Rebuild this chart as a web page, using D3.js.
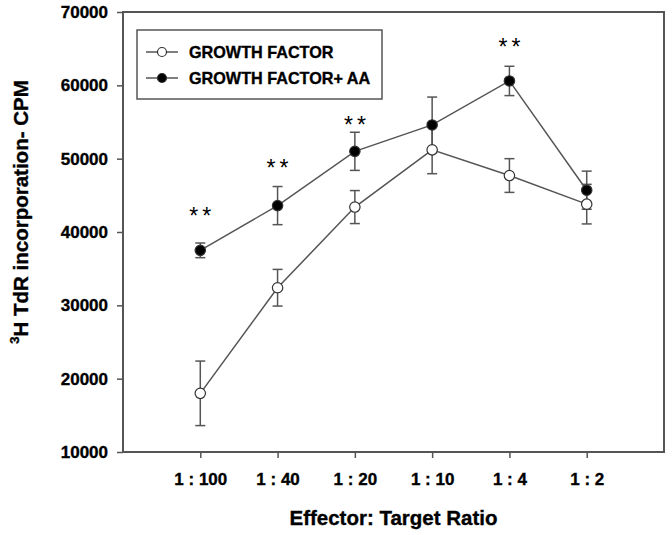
<!DOCTYPE html>
<html>
<head>
<meta charset="utf-8">
<script src="https://cdn.jsdelivr.net/npm/d3@7"></script>
<style>
  html, body { margin: 0; padding: 0; background: #fff; }
  svg { display: block; }
  text { font-family: Arial, "Liberation Sans", sans-serif; font-weight: bold; fill: #000; }
  .heavy { stroke: #000; stroke-width: 0.35px; }
</style>
</head>
<body>
<svg id="chart" width="672" height="535"></svg>
<script>
const categories = ["1 : 100", "1 : 40", "1 : 20", "1 : 10", "1 : 4", "1 : 2"];
const gfValues = [18000, 32400, 43400, 51200, 47700, 43800];
const gfErrors = [4400, 2500, 2250, 3250, 2300, 2700];
const aaValues = [37500, 43600, 51000, 54600, 60600, 45700];
const aaErrors = [1000, 2600, 2600, 3800, 2000, 2600];
const starValues = [42600, 49100, 55000, null, 65600, null];
const yTicks = [10000, 20000, 30000, 40000, 50000, 60000, 70000];
const seriesNames = ["GROWTH FACTOR", "GROWTH FACTOR+ AA"];

const svg = d3.select("#chart");
const pLeft = 123, pRight = 664, pTop = 12, pBottom = 452;
const axisColor = "#555";
const lineColor = "#555";

const x = d3.scalePoint().domain(categories).range([pLeft, pRight]).padding(1);
const y = d3.scaleLinear().domain([10000, 70000]).range([pBottom, pTop]);

// frame
svg.append("rect").attr("x", pLeft).attr("y", pTop)
  .attr("width", pRight - pLeft).attr("height", pBottom - pTop)
  .attr("fill", "none").attr("stroke", axisColor).attr("stroke-width", 2);

// y axis
const yAxis = svg.append("g").attr("transform", `translate(${pLeft},0)`)
  .call(d3.axisLeft(y).tickValues(yTicks).tickSize(6).tickPadding(9).tickFormat(d3.format("d")));
yAxis.select(".domain").remove();
yAxis.selectAll("line").attr("stroke", axisColor).attr("stroke-width", 1.5);
yAxis.selectAll("text").attr("class", "heavy").style("font-size", "17px").style("font-family", "Arial, 'Liberation Sans', sans-serif").style("font-weight", "bold").attr("fill", "#000");

// x axis
const xAxis = svg.append("g").attr("transform", `translate(0,${pBottom})`)
  .call(d3.axisBottom(x).tickSize(6).tickPadding(15));
xAxis.select(".domain").remove();
xAxis.selectAll("line").attr("stroke", axisColor).attr("stroke-width", 1.5);
xAxis.selectAll("text").attr("class", "heavy").style("font-size", "17px").style("font-family", "Arial, 'Liberation Sans', sans-serif").style("font-weight", "bold").attr("fill", "#000");

// axis titles
svg.append("text").attr("class", "heavy").attr("x", (pLeft + pRight) / 2).attr("y", 525)
  .attr("text-anchor", "middle").style("font-size", "20.5px").text("Effector: Target Ratio");

const yt = svg.append("text").attr("class", "heavy").attr("transform", "translate(25,212) rotate(-90)")
  .attr("text-anchor", "middle").style("font-size", "20.5px");
yt.append("tspan").attr("dy", "-0.45em").style("font-size", "13px").text("3");
yt.append("tspan").attr("dy", "0.45em").text("H TdR incorporation- CPM");

// series
const series = [
  { values: gfValues, errors: gfErrors, fill: "#fff" },
  { values: aaValues, errors: aaErrors, fill: "#000" }
];

const line = d3.line().x((d, i) => x(categories[i])).y(d => y(d));

series.forEach(s => {
  svg.append("path").datum(s.values).attr("d", line)
    .attr("fill", "none").attr("stroke", lineColor).attr("stroke-width", 1.5);
});

series.forEach(s => {
  const g = svg.append("g");
  s.values.forEach((v, i) => {
    const cx = x(categories[i]);
    const y1 = y(v + s.errors[i]), y2 = y(v - s.errors[i]);
    g.append("line").attr("x1", cx).attr("x2", cx).attr("y1", y1).attr("y2", y2)
      .attr("stroke", lineColor).attr("stroke-width", 1.5);
    [y1, y2].forEach(yy => g.append("line").attr("x1", cx - 5).attr("x2", cx + 5)
      .attr("y1", yy).attr("y2", yy).attr("stroke", lineColor).attr("stroke-width", 1.5));
  });
});

series.forEach(s => {
  svg.append("g").selectAll("circle").data(s.values).join("circle")
    .attr("cx", (d, i) => x(categories[i])).attr("cy", d => y(d)).attr("r", 5.2)
    .attr("fill", s.fill).attr("stroke", "#333").attr("stroke-width", 1.2);
});

// significance stars
starValues.forEach((v, i) => {
  if (v === null) return;
  [-6.5, 6.5].forEach(dx => {
    svg.append("text").attr("x", x(categories[i]) + dx).attr("y", y(v) + 11)
      .attr("text-anchor", "middle").style("font-size", "23px").style("font-weight", "normal")
      .attr("fill", "#222").text("*");
  });
});

// legend
const lg = svg.append("g");
lg.append("rect").attr("x", 137).attr("y", 30).attr("width", 245).attr("height", 69)
  .attr("fill", "#fff").attr("stroke", axisColor).attr("stroke-width", 1.5);
seriesNames.forEach((name, i) => {
  const ly = 52 + i * 26;
  lg.append("line").attr("x1", 146).attr("x2", 178).attr("y1", ly).attr("y2", ly)
    .attr("stroke", lineColor).attr("stroke-width", 1.5);
  lg.append("circle").attr("cx", 162).attr("cy", ly).attr("r", 4.5)
    .attr("fill", series[i].fill).attr("stroke", "#333").attr("stroke-width", 1.2);
  lg.append("text").attr("class", "heavy").attr("x", 189).attr("y", ly + 6).style("font-size", "16.2px").text(name);
});
</script>
</body>
</html>
